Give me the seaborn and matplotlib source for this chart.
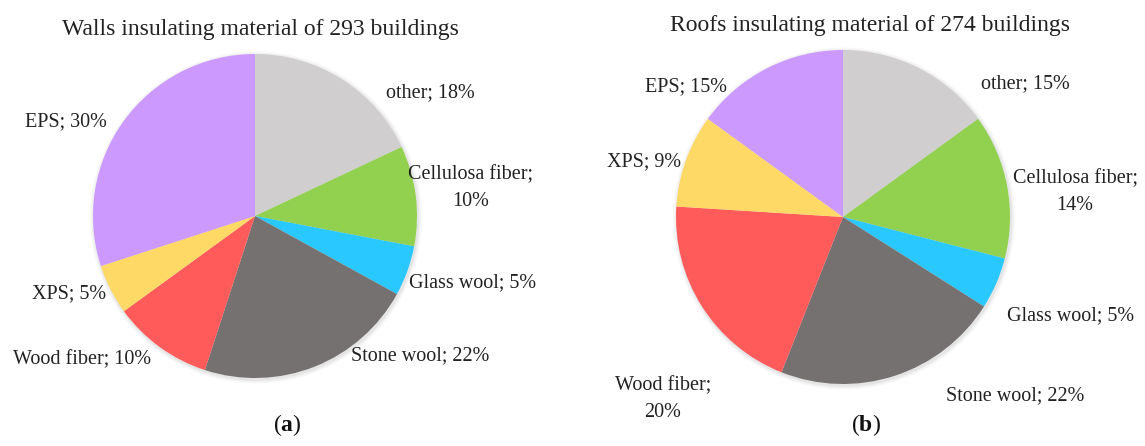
import matplotlib
matplotlib.use("Agg")
import matplotlib.pyplot as plt
import seaborn as sns

# data
materials = ["other", "Cellulosa fiber", "Glass wool", "Stone wool", "Wood fiber", "XPS", "EPS"]
walls_pct = [18, 10, 5, 22, 10, 5, 30]
roofs_pct = [15, 14, 5, 22, 20, 9, 15]
walls_title = "Walls insulating material of 293 buildings"
roofs_title = "Roofs insulating material of 274 buildings"
colors = ["#D0CECE", "#92D050", "#29C8FF", "#767171", "#FF5B5B", "#FFD966", "#CC99FF"]

# label text (line breaks as in the original)
walls_labels = ["other; 18%", "Cellulosa fiber;\n10%", "Glass wool; 5%", "Stone wool; 22%",
                "Wood fiber; 10%", "XPS; 5%", "EPS; 30%"]
roofs_labels = ["other; 15%", "Cellulosa fiber;\n14%", "Glass wool; 5%", "Stone wool; 22%",
                "Wood fiber;\n20%", "XPS; 9%", "EPS; 15%"]

# label offsets from pie centre, in pie radii
walls_off = [(1.08, 0.76), (1.33, 0.17), (1.34, -0.41), (1.02, -0.86),
             (-1.07, -0.89), (-1.15, -0.48), (-1.17, 0.58)]
roofs_off = [(1.09, 0.80), (1.39, 0.15), (1.36, -0.59), (1.03, -1.07),
             (-1.08, -1.09), (-1.19, 0.33), (-0.94, 0.78)]

sns.set_theme(style="white")
plt.rcParams["font.family"] = ["Liberation Serif", "DejaVu Serif"]
plt.rcParams["mathtext.fontset"] = "custom"
plt.rcParams["mathtext.rm"] = "Liberation Serif"
plt.rcParams["mathtext.bf"] = "Liberation Serif:bold"

W, H = 1145, 446
fig = plt.figure(figsize=(W / 100, H / 100), dpi=100)
ax = fig.add_axes([0, 0, 1, 1])
ax.set_xlim(0, W)
ax.set_ylim(0, H)
ax.set_aspect("equal")
ax.axis("off")

panels = [
    (walls_pct, walls_labels, walls_off, walls_title, (255, H - 216), 162, (260, H - 30), (287, "a")),
    (roofs_pct, roofs_labels, roofs_off, roofs_title, (843, H - 217), 167, (870, H - 25), (866, "b")),
]

for pct, labels, offs, title, center, r, tpos, tag in panels:
    # soft shadow around the pie
    for k, a in [(4, 0.05), (2.5, 0.07), (1.2, 0.10)]:
        ax.add_patch(plt.Circle((center[0] + 1, center[1] - 1.5), r + k,
                                color="#888888", alpha=a, lw=0))
    ax.pie(pct, colors=colors, startangle=90, counterclock=False,
           center=center, radius=r, wedgeprops=dict(linewidth=0))
    for lab, (dx, dy) in zip(labels, offs):
        ax.text(center[0] + dx * r, center[1] + dy * r, lab, ha="center", va="center",
                fontsize=14.5, color="#222222", linespacing=1.55)
    ax.text(tpos[0], tpos[1], title, ha="center", va="center", fontsize=17, color="#222222")
    ax.text(tag[0], H - 425, "(" + r"$\mathbf{" + tag[1] + "}$" + ")", ha="center", va="center",
            fontsize=17, color="#111111")

ax.set_xlim(0, W)
ax.set_ylim(0, H)

fig.savefig("out.png", dpi=100)
